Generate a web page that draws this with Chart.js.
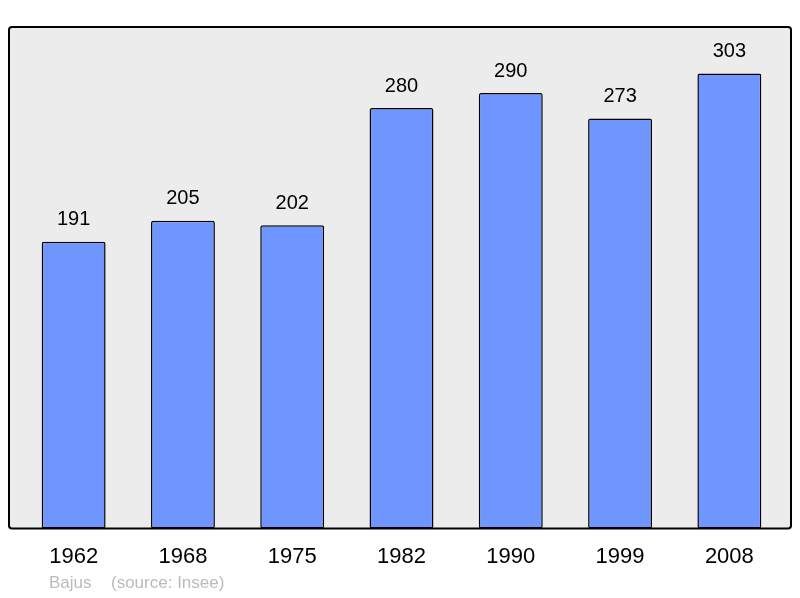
<!DOCTYPE html>
<html>
<head>
<meta charset="utf-8">
<script src="https://cdn.jsdelivr.net/npm/chart.js@4.4.0/dist/chart.umd.min.js"></script>
<style>
  html, body { margin: 0; padding: 0; background: #fff; }
  #wrap { width: 800px; height: 598px; position: relative; }
</style>
</head>
<body>
<div id="wrap"><canvas id="popChart" width="800" height="598"></canvas></div>
<script>
const years = ['1962', '1968', '1975', '1982', '1990', '1999', '2008'];
const population = [191, 205, 202, 280, 290, 273, 303];
const footerName = 'Bajus';
const footerSource = '(source: Insee)';

// grey panel with black frame behind the bars
const framePlugin = {
    id: 'frame',
    beforeDraw(chart) {
        const ctx = chart.ctx;
        const area = chart.chartArea;
        const x0 = 9, x1 = 791, y0 = area.top, y1 = area.bottom;
        ctx.save();
        ctx.beginPath();
        ctx.roundRect(x0, y0, x1 - x0, y1 - y0, 3);
        ctx.fillStyle = '#ececec';
        ctx.fill();
        ctx.restore();
    },
    afterDatasetsDraw(chart) {
        const ctx = chart.ctx;
        const area = chart.chartArea;
        const x0 = 9, x1 = 791, y0 = area.top, y1 = area.bottom;
        ctx.save();
        ctx.beginPath();
        ctx.roundRect(x0, y0, x1 - x0, y1 - y0, 3);
        ctx.lineWidth = 2;
        ctx.strokeStyle = '#000';
        ctx.stroke();
        ctx.restore();
    }
};

// value labels above bars + footer text
const labelPlugin = {
    id: 'valueLabels',
    afterDraw(chart) {
        const ctx = chart.ctx;
        const meta = chart.getDatasetMeta(0);
        ctx.save();
        ctx.font = '20px "Liberation Sans", Arial, sans-serif';
        ctx.fillStyle = '#000';
        ctx.textAlign = 'center';
        ctx.textBaseline = 'middle';
        meta.data.forEach((bar, i) => {
            ctx.fillText(String(population[i]), bar.x, bar.y - 22);
        });
        ctx.font = '17px "Liberation Sans", Arial, sans-serif';
        ctx.fillStyle = '#bbbbbb';
        ctx.textAlign = 'left';
        ctx.fillText(footerName, 49, 583);
        ctx.fillText(footerSource, 111, 583);
        ctx.restore();
    }
};

new Chart(document.getElementById('popChart'), {
    type: 'bar',
    data: {
        labels: years,
        datasets: [{
            data: population,
            backgroundColor: '#6f96ff',
            borderColor: '#000',
            borderWidth: 1.5,
            borderRadius: 2,
            borderSkipped: false,
            categoryPercentage: 1,
            barPercentage: 0.585
        }]
    },
    options: {
        responsive: false,
        animation: false,
        layout: {
            padding: { left: 19, right: 16, top: 27, bottom: 13 }
        },
        plugins: {
            legend: { display: false },
            tooltip: { enabled: false }
        },
        scales: {
            x: {
                grid: { display: false, drawTicks: false },
                border: { display: false },
                ticks: {
                    color: '#000',
                    padding: 15,
                    font: { family: '"Liberation Sans", Arial, sans-serif', size: 22 }
                }
            },
            y: {
                display: false,
                min: 0,
                max: 334
            }
        }
    },
    plugins: [framePlugin, labelPlugin]
});
</script>
</body>
</html>
